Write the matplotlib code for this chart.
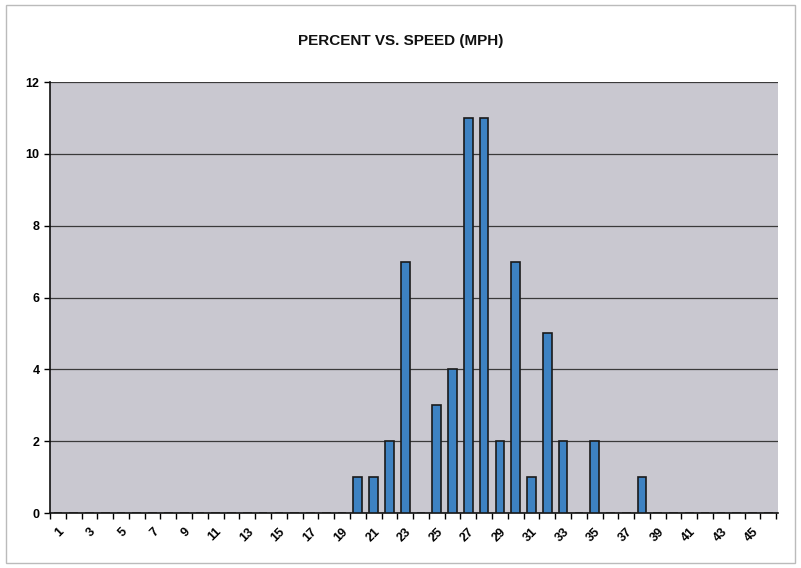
import matplotlib.pyplot as plt
from matplotlib.patches import Rectangle

# speed categories 1..46 mph, percent of vehicles
speeds = list(range(1, 47))
percent_by_speed = {20: 1, 21: 1, 22: 2, 23: 7, 25: 3, 26: 4, 27: 11, 28: 11,
                    29: 2, 30: 7, 31: 1, 32: 5, 33: 2, 35: 2, 38: 1}
percent = [percent_by_speed.get(s, 0) for s in speeds]
tick_labels = [str(s) for s in speeds[::2]]

plt.rcParams["font.family"] = ["Liberation Sans", "DejaVu Sans"]

fig = plt.figure(figsize=(8.01, 5.68), dpi=100)
fig.patches.append(Rectangle((0.008, 0.008), 0.984, 0.984, transform=fig.transFigure,
                             fill=False, edgecolor="#bbbbbb", linewidth=1))
ax = fig.add_axes([0.0624, 0.0968, 0.9086, 0.7588])
ax.set_facecolor("#c9c8d0")

ax.bar(speeds, percent, width=0.55, color="#3d82c2", edgecolor="#1a1a1a",
       linewidth=1.2, zorder=3)

ax.set_xlim(0.5, 46.6)
ax.set_ylim(0, 12)
ax.set_yticks(range(0, 13, 2))
ax.grid(axis="y", color="#3a3a3a", linewidth=0.9, zorder=1)

# ticks between categories, labels on odd speeds
ax.set_xticks([s + 0.5 for s in [0] + speeds], minor=False)
ax.set_xticklabels([])
ax.set_xticks(speeds[::2], minor=True)
ax.set_xticklabels(tick_labels, minor=True, rotation=45, ha="right",
                   rotation_mode="anchor", fontsize=9, fontweight="bold")
ax.tick_params(axis="x", which="minor", length=0, pad=9)
ax.tick_params(axis="x", which="major", length=4, width=1, direction="out")
ax.tick_params(axis="y", length=4, width=1, labelsize=9)
for lbl in ax.get_yticklabels():
    lbl.set_fontweight("bold")

for side in ["top", "right"]:
    ax.spines[side].set_visible(False)
for side in ["left", "bottom"]:
    ax.spines[side].set_linewidth(1.2)
    ax.spines[side].set_color("#111111")

fig.text(0.5, 0.928, "PERCENT VS. SPEED (MPH)", ha="center", va="center",
         fontsize=11, fontweight="bold", color="#111111")

fig.savefig("out.png", dpi=100)
